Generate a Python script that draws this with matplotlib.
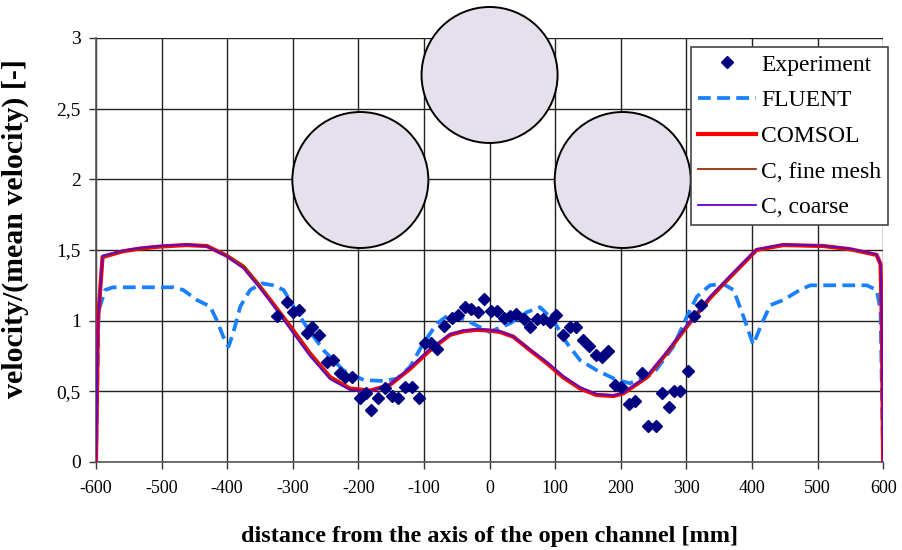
import matplotlib
matplotlib.use("Agg")
import matplotlib.pyplot as plt
from matplotlib.patches import Ellipse
from matplotlib.lines import Line2D

plt.rcParams['font.family'] = ['Liberation Serif', 'DejaVu Serif']

# ---- data ----
exp_x = [-324, -309, -300, -290, -279, -271, -260, -248, -239, -228, -220, -210, -198, -188,
         -180, -170, -159, -149, -139, -129, -119, -108, -99, -89, -80, -70, -58, -48, -38,
         -28, -18, -8, 2, 12, 22, 31, 41, 52, 62, 72, 82, 92, 102, 112, 122, 132, 142, 152,
         163, 172, 181, 191, 201, 212, 222, 232, 242, 254, 263, 273, 281, 291, 302, 312, 322]
exp_y = [1.03, 1.13, 1.06, 1.075, 0.915, 0.957, 0.90, 0.71, 0.72, 0.63, 0.60, 0.60, 0.45, 0.486,
         0.37, 0.45, 0.52, 0.47, 0.45, 0.53, 0.53, 0.45, 0.845, 0.84, 0.80, 0.96, 1.02, 1.04, 1.10,
         1.08, 1.06, 1.15, 1.07, 1.07, 1.02, 1.03, 1.05, 1.01, 0.957, 1.01, 1.01, 0.99, 1.04, 0.90,
         0.957, 0.957, 0.86, 0.82, 0.757, 0.745, 0.785, 0.545, 0.53, 0.41, 0.43, 0.63, 0.255,
         0.255, 0.486, 0.39, 0.505, 0.505, 0.646, 1.033, 1.11]

fluent_x = [-600, -596, -586, -574, -482, -467, -446, -426, -416, -406, -398, -391, -380, -365,
            -347, -330, -314, -299, -279, -253, -223, -192, -162, -141, -121, -101, -80, -60,
            -30, 0, 31, 57, 77, 97, 118, 138, 163, 194, 214, 250, 280, 301, 316, 336, 356, 372,
            387, 402, 415, 428, 448, 473, 489, 575, 590, 596, 600]
fluent_y = [0, 1.07, 1.217, 1.236, 1.236, 1.217, 1.146, 1.10, 1.005, 0.887, 0.816, 0.91, 1.10,
            1.217, 1.264, 1.25, 1.217, 1.10, 0.957, 0.79, 0.65, 0.58, 0.573, 0.59, 0.674, 0.84,
            0.98, 1.05, 0.99, 0.92, 0.98, 1.06, 1.095, 1.005, 0.84, 0.72, 0.65, 0.58, 0.557,
            0.627, 0.816, 1.03, 1.17, 1.25, 1.26, 1.217, 1.03, 0.83, 0.98, 1.11, 1.146, 1.217,
            1.25, 1.25, 1.217, 1.075, 0]

model_x = [-600, -597, -590, -560, -533, -500, -462, -431, -401, -375, -350, -335, -304, -274,
           -243, -213, -182, -152, -121, -91, -60, -40, -20, 0, 16, 36, 62, 87, 112, 138, 163,
           189, 204, 240, 270, 301, 336, 367, 407, 448, 509, 550, 590, 596, 598, 600]
comsol_y = [0, 1.0, 1.45, 1.49, 1.51, 1.525, 1.535, 1.528, 1.46, 1.38, 1.24, 1.15, 0.96, 0.77,
            0.60, 0.52, 0.505, 0.545, 0.66, 0.79, 0.90, 0.925, 0.935, 0.93, 0.92, 0.887, 0.79,
            0.70, 0.60, 0.52, 0.474, 0.467, 0.486, 0.60, 0.77, 0.96, 1.16, 1.31, 1.50, 1.535,
            1.528, 1.505, 1.465, 1.40, 1.0, 0]
fine_y = [0, 1.0, 1.45, 1.49, 1.51, 1.525, 1.54, 1.53, 1.465, 1.39, 1.25, 1.15, 0.955, 0.765,
          0.595, 0.515, 0.50, 0.545, 0.665, 0.80, 0.905, 0.93, 0.94, 0.935, 0.925, 0.89, 0.795,
          0.705, 0.605, 0.525, 0.478, 0.47, 0.49, 0.60, 0.77, 0.955, 1.16, 1.31, 1.50, 1.54,
          1.53, 1.505, 1.465, 1.40, 1.0, 0]
coarse_y = [0, 1.0, 1.46, 1.495, 1.515, 1.53, 1.54, 1.525, 1.455, 1.37, 1.23, 1.14, 0.94, 0.75,
            0.585, 0.51, 0.50, 0.55, 0.67, 0.80, 0.905, 0.93, 0.94, 0.935, 0.925, 0.89, 0.795,
            0.71, 0.61, 0.53, 0.482, 0.472, 0.49, 0.61, 0.78, 0.97, 1.17, 1.32, 1.505, 1.54,
            1.53, 1.51, 1.47, 1.40, 1.0, 0]

circle_x = [-197, 0, 203]
circle_y = [1.995, 2.738, 1.995]

xticks = list(range(-600, 601, 100))
yticks = [0, 0.5, 1, 1.5, 2, 2.5, 3]
ytick_labels = ['0', '0,5', '1', '1,5', '2', '2,5', '3']

# ---- figure ----
fig = plt.figure(figsize=(9.03, 5.5), dpi=100)
ax = fig.add_axes([0.1063, 0.16, 0.8717, 0.771])
ax.set_xlim(-600, 600)
ax.set_ylim(0, 3)

ax.set_xticks(xticks)
ax.set_xticklabels([str(t) for t in xticks])
ax.set_yticks(yticks)
ax.set_yticklabels(ytick_labels)
ax.tick_params(axis='both', direction='out', length=5, width=1, color='#333333')
ax.tick_params(axis='x', pad=8, labelsize=13)
ax.tick_params(axis='y', pad=6, labelsize=14)
ax.grid(True, color='#222222', linewidth=1.0, zorder=0)
ax.set_axisbelow(True)
for s in ['top', 'right']:
    ax.spines[s].set_visible(False)
for s in ['left', 'bottom']:
    ax.spines[s].set_color('#555555')
    ax.spines[s].set_linewidth(1.2)

# circles (rods)
rx = 207.4
ry = 0.962
for cx, cy in zip(circle_x, circle_y):
    e = Ellipse((cx, cy), rx, ry, facecolor='#E6E0EC', edgecolor='black', linewidth=1.4,
                zorder=2, clip_on=False)
    ax.add_patch(e)

dash = (0, (3.4, 1.7))
ax.plot(fluent_x, fluent_y, color='#1A80FF', linewidth=2.7, linestyle=dash, zorder=3,
        label='FLUENT')
ax.plot(model_x, comsol_y, color='#FF0000', linewidth=3.0, zorder=4, label='COMSOL')
ax.plot(model_x, fine_y, color='#993300', linewidth=1.3, zorder=5, label='C, fine mesh')
ax.plot(model_x, coarse_y, color='#6600CC', linewidth=1.3, zorder=6, label='C, coarse')
ax.plot(exp_x, exp_y, linestyle='none', marker='D', markersize=6.5, color='#000080', zorder=7,
        label='Experiment')

handles = [
    Line2D([], [], linestyle='none', marker='D', markersize=6.5, color='#000080'),
    Line2D([], [], color='#1A80FF', linewidth=2.7, linestyle=dash),
    Line2D([], [], color='#FF0000', linewidth=3.0),
    Line2D([], [], color='#993300', linewidth=1.3),
    Line2D([], [], color='#6600CC', linewidth=1.3),
]
labels = ['Experiment', 'FLUENT', 'COMSOL', 'C, fine mesh', 'C, coarse']
leg = ax.legend(handles, labels, loc='upper right', bbox_to_anchor=(1.0064, 0.9788),
                prop={'size': 17}, frameon=True, fancybox=False, framealpha=1.0,
                edgecolor='#444444', borderpad=0.3, labelspacing=0.6, handlelength=2.45,
                handletextpad=0.2, borderaxespad=0.0)
leg.get_frame().set_linewidth(1.2)
leg.set_zorder(10)

ax.set_xlabel('distance from the axis of the open channel [mm]', fontsize=17.5,
              fontweight='bold', labelpad=21)
ax.set_ylabel('velocity/(mean velocity) [-]', fontsize=21.5, fontweight='bold')
ax.yaxis.set_label_coords(-0.085, 0.55)

fig.savefig('out.png', dpi=100)
